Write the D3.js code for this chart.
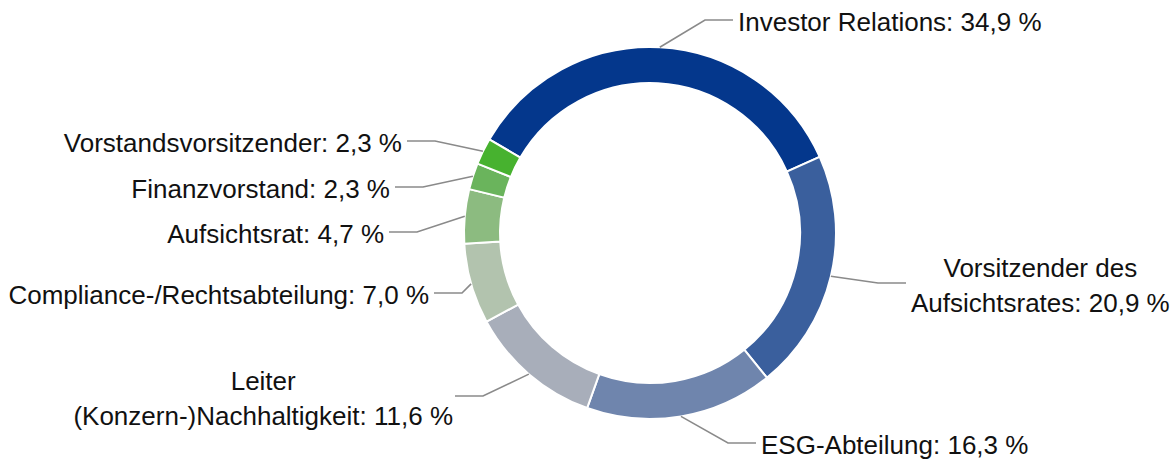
<!DOCTYPE html>
<html>
<head>
<meta charset="utf-8">
<script src="https://cdn.jsdelivr.net/npm/d3@7"></script>
<style>
  html, body { margin: 0; padding: 0; background: #ffffff; }
  svg { display: block; }
  .label { font-family: "Liberation Sans", Arial, sans-serif; font-size: 26px; fill: #111111; }
</style>
</head>
<body>
<div id="main_div"></div>
<script>
var WIDTH = 1171;
var HEIGHT = 461;

// chart data
var categories = [
  "Investor Relations",
  "Vorsitzender des\nAufsichtsrates",
  "ESG-Abteilung",
  "Leiter\n(Konzern-)Nachhaltigkeit",
  "Compliance-/Rechtsabteilung",
  "Aufsichtsrat",
  "Finanzvorstand",
  "Vorstandsvorsitzender"
];
var shares = [34.9, 20.9, 16.3, 11.6, 7.0, 4.7, 2.3, 2.3];
var colors = ["#04378c", "#3a5f9d", "#6f85ad", "#a8aeba", "#b2c3ae", "#8cbb80", "#6ab45c", "#47b22f"];

// layout
var CX = 650, CY = 233;
var OUTER_R = 186, INNER_R = 150;
var START_DEG = -59.8;
var TICK_LEN = 28, TEXT_GAP = 5;
var LINE_HEIGHT = 35.5;
// elbow of each leader line (where it turns horizontal)
var ELBOWS = [[705, 20], [878, 283], [728, 443], [483, 396], [462, 293], [417, 232], [423, 187], [435, 141]];

function formatShare(v) {
  return v.toFixed(1).replace(".", ",") + " %";
}

function initialize() {
  var svg = d3.select("#main_div").append("svg")
      .attr("width", WIDTH)
      .attr("height", HEIGHT);

  var start = START_DEG * Math.PI / 180;
  var pie = d3.pie()
      .sort(null)
      .value(function(d) { return d.value; })
      .startAngle(start)
      .endAngle(start + 2 * Math.PI);

  var data = categories.map(function(c, i) {
    return { name: c, value: shares[i], color: colors[i], elbow: ELBOWS[i] };
  });
  var arcs = pie(data);

  var arc = d3.arc().innerRadius(INNER_R).outerRadius(OUTER_R);
  var edge = d3.arc().innerRadius(OUTER_R).outerRadius(OUTER_R);

  var g = svg.append("g").attr("transform", "translate(" + CX + "," + CY + ")");

  // Donut slices
  g.selectAll("path.slice")
      .data(arcs).enter()
    .append("path")
      .attr("class", "slice")
      .attr("d", arc)
      .style("fill", function(d) { return d.data.color; })
      .style("stroke", "#ffffff")
      .style("stroke-width", 2);

  // Leader lines
  var leaders = svg.append("g");
  arcs.forEach(function(d) {
    var p = edge.centroid(d);
    var e = d.data.elbow;
    var right = e[0] > CX;
    var endX = right ? e[0] + TICK_LEN : e[0] - TICK_LEN;
    leaders.append("polyline")
        .attr("points", [[CX + p[0], CY + p[1]], e, [endX, e[1]]].map(function(q) { return q.join(","); }).join(" "))
        .style("fill", "none")
        .style("stroke", "#8a8a8a")
        .style("stroke-width", 1.6);

    // Label text
    var lines = (d.data.name + ": " + formatShare(d.data.value)).split("\n");
    var txt = svg.append("text").attr("class", "label");
    if (lines.length === 1) {
      txt.attr("x", right ? endX + TEXT_GAP : endX - TEXT_GAP)
         .attr("y", e[1] + 10.5)
         .attr("text-anchor", right ? "start" : "end")
         .text(lines[0]);
    } else {
      var spans = lines.map(function(l, k) {
        return txt.append("tspan").attr("y", e[1] - 6.5 + k * LINE_HEIGHT).text(l);
      });
      var maxW = d3.max(spans, function(s) { return s.node().getComputedTextLength(); });
      var cxText = right ? endX + TEXT_GAP + maxW / 2 : endX - TEXT_GAP + 3 - maxW / 2;
      spans.forEach(function(s) { s.attr("x", cxText); });
      txt.attr("text-anchor", "middle");
    }
  });
}

initialize();
</script>
</body>
</html>
